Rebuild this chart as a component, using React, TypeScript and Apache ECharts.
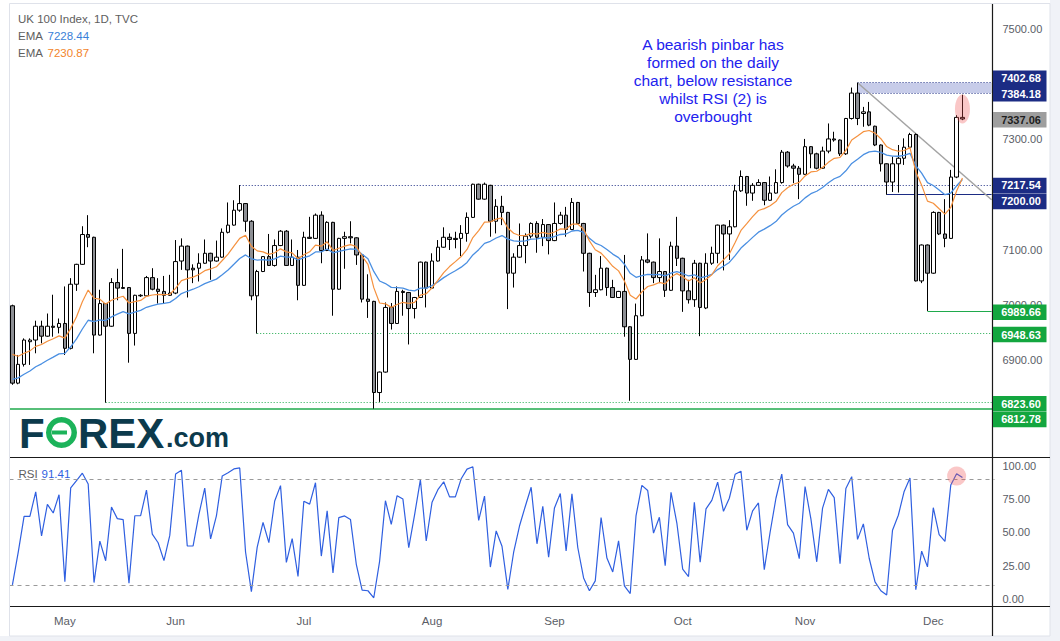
import React, { useEffect, useRef } from "react";
import * as echarts from "echarts";

// ---------- candle data (UK 100, daily) ----------
const opens = [
  6999, 6859, 6893, 6934, 6937, 6962, 6944, 6962, 6960, 6967,
  6922, 7038, 7074, 7128, 7123, 6946, 7003, 6962, 7041, 7032,
  7032, 6949, 7017, 7017, 7050, 7029, 7025, 7018, 7022, 7080,
  7107, 7067, 7067, 7076, 7094, 7080, 7087, 7132, 7145, 7172,
  7184, 7152, 7017, 7061, 7088, 7072, 7108, 7134, 7072, 7087,
  7036, 7123, 7121, 7163, 7099, 7150, 7029, 7121, 7124, 7122,
  7091, 7011, 7007, 6842, 6879, 6996, 6967, 7025, 7023, 6994,
  7014, 7078, 7031, 7080, 7105, 7123, 7121, 7121, 7130, 7159,
  7219, 7192, 7217, 7152, 7179, 7168, 7058, 7087, 7108, 7125,
  7148, 7123, 7146, 7117, 7148, 7163, 7137, 7186, 7148, 7094,
  7023, 7028, 7067, 7032, 7014, 7025, 6961, 6902, 6981, 7082,
  7078, 7050, 7061, 7027, 7107, 7085, 7026, 7010, 7076, 6995,
  7076, 7094, 7145, 7129, 7142, 7207, 7233, 7203, 7217, 7222,
  7190, 7203, 7222, 7277, 7252, 7248, 7237, 7287, 7274, 7248,
  7279, 7301, 7299, 7274, 7338, 7384, 7347, 7350, 7324, 7290,
  7256, 7223, 7256, 7266, 7286, 7309, 7044, 7109, 7058, 7168,
  7129, 7121, 7232, 7340,
];
const highs = [
  7001, 6910, 6940, 6940, 6972, 6972, 6985, 7019, 6976, 7034,
  7049, 7075, 7143, 7163, 7124, 7028, 7004, 7049, 7066, 7102,
  7033, 7019, 7020, 7053, 7067, 7049, 7053, 7055, 7118, 7121,
  7108, 7074, 7094, 7119, 7095, 7117, 7139, 7186, 7190, 7217.54,
  7185, 7154, 7064, 7089, 7129, 7119, 7136, 7136, 7119, 7100,
  7133, 7160, 7166, 7170, 7152, 7151, 7122, 7133, 7152, 7123,
  7092, 7056, 7008, 6880, 7005, 7004, 7034, 7028, 7024, 7015,
  7079, 7079, 7094, 7118, 7141, 7130, 7133, 7145, 7168, 7220,
  7220, 7222, 7218, 7192, 7198, 7169, 7094, 7148, 7130, 7150,
  7152, 7156, 7147, 7186, 7169, 7178, 7194, 7187, 7149, 7095,
  7055, 7089, 7068, 7046, 7026, 7091, 6962, 7003, 7089, 7130,
  7079, 7121, 7062, 7115, 7160, 7086, 7046, 7082, 7077, 7094,
  7106, 7146, 7146, 7154, 7218, 7244, 7234, 7221, 7228, 7223,
  7233, 7246, 7281, 7279, 7256, 7252, 7301, 7288, 7276, 7287,
  7329, 7314, 7300, 7339, 7394, 7402.68, 7359, 7368, 7325, 7291,
  7257, 7269, 7290, 7302, 7312, 7311, 7110, 7110, 7170, 7169,
  7192, 7245, 7344, 7381,
];
const lows = [
  6856, 6857, 6889, 6892, 6913, 6931, 6943, 6943, 6949, 6910,
  6920, 7026, 7073, 7105, 6913, 6945, 6823.6, 6961, 7009, 7030,
  6896, 6927, 7015, 7015, 7027, 7003, 7003, 7017, 7020, 7064,
  7014, 7040, 7043, 7075, 7046, 7079, 7086, 7130, 7144, 7169,
  7133, 7009, 6948.63, 7060, 7071, 7070, 7107, 7071, 7071, 7009,
  7035, 7120, 7120, 7076, 7098, 6981, 7028, 7066, 7112, 7073,
  7005, 6977, 6812.78, 6825, 6878, 6956, 6966, 6981, 6929, 6976,
  7013, 6996, 7030, 7079, 7104, 7100, 7103, 7089, 7115, 7158,
  7191, 7191, 7124, 7130, 7145, 6993, 7032, 7086, 7076, 7121,
  7095, 7107, 7092, 7116, 7146, 7124, 7136, 7147, 7061, 6997,
  7015, 7027, 7017, 7013, 7013, 6943, 6827, 6901, 6980, 7076,
  7040, 7040, 7015, 7026, 7071, 6988, 7003, 6997, 6944, 6993,
  7073, 7076, 7063, 7082, 7141, 7205, 7180, 7189, 7216, 7181,
  7189, 7202, 7220, 7249, 7221, 7192, 7236, 7248, 7246, 7247,
  7275, 7296, 7270, 7272, 7336, 7326, 7323, 7324, 7288, 7242,
  7200, 7205, 7204, 7254, 7285, 7043, 7040, 6989.66, 7057, 7127,
  7105, 7120, 7230, 7335,
];
const closes = [
  6859, 6893, 6937, 6937, 6962, 6944, 6962, 6960, 6967, 6922,
  7038, 7074, 7128, 7123, 6946, 7003, 6962, 7041, 7031, 7030.5,
  6949, 7018, 7018, 7050, 7029, 7025, 7018, 7022, 7079, 7107,
  7064, 7064, 7076, 7094, 7080, 7087, 7132, 7145, 7172, 7184,
  7152, 7017, 7061, 7088, 7072, 7108, 7134, 7072, 7087, 7036,
  7123, 7121, 7163, 7099, 7150, 7029, 7121, 7124, 7122, 7091,
  7011, 7007, 6842, 6879, 6996, 6967, 7025, 7023, 6994, 7014,
  7078, 7031, 7080, 7105, 7123, 7119, 7119, 7130, 7159, 7219,
  7192, 7219, 7152, 7179, 7168, 7058, 7087, 7108, 7125, 7148,
  7123, 7146, 7117, 7148, 7163, 7137, 7186, 7148, 7094, 7023,
  7028, 7067, 7032, 7014, 7025, 6961, 6902, 6981, 7082, 7078,
  7050, 7061, 7027, 7107, 7085, 7026, 7010, 7076, 6996, 7076,
  7094, 7145, 7129, 7142, 7207, 7233, 7203, 7217, 7222, 7190,
  7203, 7222, 7277, 7252, 7248, 7237, 7287, 7274, 7248, 7279,
  7301, 7299, 7274, 7338, 7384, 7338, 7350, 7326, 7290, 7256,
  7223, 7256, 7266, 7286, 7309, 7044, 7109, 7058, 7168, 7129,
  7121, 7232, 7340, 7337.06,
];

// ---------- calendar ----------
const firstSession = [2021, 3, 20]; // 20 Apr 2021
const marketHolidays = ["2021-05-03", "2021-05-31", "2021-08-30"];
const monthNames = ["Jan", "Feb", "Mar", "Apr", "May", "Jun", "Jul", "Aug", "Sep", "Oct", "Nov", "Dec"];
const rightPadBars = 5;

// ---------- axes (only the tick labels left visible next to the level badges) ----------
const priceTicks = [6900, 7000, 7100, 7300, 7500];
const priceMin = 6725.3;
const priceMax = 7543.4;
const rsiTicks = [0, 25, 50, 75, 100];
const rsiMin = -5.26;
const rsiMax = 106.0;
const rsiBands = [90, 10];

// ---------- indicators ----------
const emaFastPeriod = 10;
const emaSlowPeriod = 20;
const emaFastFirst = 6911; // value on first visible bar
const emaSlowFirst = 6866;
const rsiPeriod = 2;
const rsiFirstAvgGain = 9.5;
const rsiFirstAvgLoss = 80;
const legendTitle = "UK 100 Index, 1D, TVC";
const legendEmaSlow = "7228.44";
const legendEmaFast = "7230.87";
const legendRsi = "91.41";

// ---------- drawn levels ----------
const levelValues = [7402.68, 7384.18, 7337.06, 7217.54, 7200.0, 6989.66, 6948.63, 6823.6, 6812.78];
const levelStartBars = [145, 145, -1, 39, 150, 157, 42, 16, 0];
const trendStart = [145, 7402.68];
const trendEnd = [168, 7191];
const pinbarMark = [163, 7355];
const rsiMark = [162, 92.5];
const noteLines = [
  "A bearish pinbar has",
  "formed on the daily",
  "chart, below resistance",
  "whilst RSI (2) is",
  "overbought",
];

// ---------- styles ----------
const FONT = "'Liberation Sans', Arial, Helvetica, sans-serif";
const NAVY = "#1c2c84";
const GREEN = "#1faa4c";
const levelLineStyles: any[] = [
  { color: NAVY, type: [1, 2], width: 1 },
  { color: NAVY, type: [1, 2], width: 1 },
  null,
  { color: NAVY, type: [1, 2], width: 1 },
  { color: NAVY, type: "solid", width: 1.2 },
  { color: GREEN, type: "solid", width: 1.2 },
  { color: GREEN, type: [1, 2], width: 1 },
  { color: GREEN, type: [1, 2], width: 1 },
  { color: GREEN, type: "solid", width: 1.5 },
];
const badgeFills = [NAVY, NAVY, "#9e9e9e", NAVY, NAVY, "#13a63f", "#13a63f", "#13a63f", "#13a63f"];
const badgeTextFills = ["#fff", "#fff", "#1e1e1e", "#fff", "#fff", "#fff", "#fff", "#fff", "#fff"];
const badgeNudges = [-4.5, 0.8, 0.7, 0.4, 6.6, 1.3, 0.9, 1.1, 10.8];

function buildSessions(count: number): string[] {
  const out: string[] = [];
  const d = new Date(Date.UTC(firstSession[0], firstSession[1], firstSession[2]));
  while (out.length < count) {
    const dow = d.getUTCDay();
    const iso = d.toISOString().slice(0, 10);
    if (dow !== 0 && dow !== 6 && marketHolidays.indexOf(iso) < 0) out.push(iso);
    d.setUTCDate(d.getUTCDate() + 1);
  }
  return out;
}

function ema(values: number[], period: number, first: number): number[] {
  const k = 2 / (period + 1);
  const out = [first];
  for (let i = 1; i < values.length; i++) out.push(out[i - 1] + k * (values[i] - out[i - 1]));
  return out.map((v) => Math.round(v * 100) / 100);
}

function rsi(values: number[], period: number, g0: number, l0: number): number[] {
  let ag = g0;
  let al = l0;
  const out = [100 - 100 / (1 + ag / al)];
  for (let i = 1; i < values.length; i++) {
    const ch = values[i] - values[i - 1];
    ag = (ag * (period - 1) + Math.max(ch, 0)) / period;
    al = (al * (period - 1) + Math.max(-ch, 0)) / period;
    out.push(al === 0 ? 100 : 100 - 100 / (1 + ag / al));
  }
  return out.map((v) => Math.round(v * 100) / 100);
}

export default function App() {
  const ref = useRef<HTMLDivElement>(null);

  useEffect(() => {
    const el = ref.current;
    if (!el) return;
    const chart = echarts.init(el, null, { renderer: "svg", width: 1060, height: 641 });

    const sessions = buildSessions(closes.length);
    const categories = sessions.concat(Array.from({ length: rightPadBars }, (_, i) => "pad" + i));
    const lastBar = categories.length - 1;
    const isMonthStart = (i: number) =>
      i > 0 && i < sessions.length && sessions[i].slice(5, 7) !== sessions[i - 1].slice(5, 7);

    const candles = opens.map((o, i) => [o, closes[i], lows[i], highs[i]]);
    const emaFast = ema(closes, emaFastPeriod, emaFastFirst);
    const emaSlow = ema(closes, emaSlowPeriod, emaSlowFirst);
    const rsiValues = rsi(closes, rsiPeriod, rsiFirstAvgGain, rsiFirstAvgLoss);

    const markLines: any[] = [];
    levelValues.forEach((v, i) => {
      const ls = levelLineStyles[i];
      if (!ls) return;
      if (levelStartBars[i] === 0) {
        markLines.push({ yAxis: v, lineStyle: ls });
      } else {
        markLines.push([{ coord: [levelStartBars[i], v], lineStyle: ls }, { coord: [lastBar, v] }]);
      }
    });
    markLines.push([
      { coord: trendStart, lineStyle: { color: "#a3a3a3", width: 1.5, type: "solid" } },
      { coord: trendEnd },
    ]);

    const axisLabelStyle = { color: "#5a5d66", fontSize: 11, fontFamily: FONT };

    const option: any = {
      animation: false,
      backgroundColor: "#ffffff",
      grid: [
        { left: 9.5, top: 5, width: 985, height: 452 },
        { left: 9.5, top: 458, width: 985, height: 148 },
      ],
      xAxis: [
        {
          type: "category", gridIndex: 0, data: categories,
          axisLine: { show: false }, axisTick: { show: false }, axisLabel: { show: false }, splitLine: { show: false },
        },
        {
          type: "category", gridIndex: 1, data: categories,
          axisLine: { show: false }, axisTick: { show: false }, splitLine: { show: false },
          axisLabel: {
            ...axisLabelStyle, fontSize: 11.5, margin: 9,
            interval: (index: number) => isMonthStart(index),
            formatter: (value: string) => (value.startsWith("pad") ? "" : monthNames[parseInt(value.slice(5, 7), 10) - 1]),
          },
        },
      ],
      yAxis: [
        {
          type: "value", gridIndex: 0, position: "right", min: priceMin, max: priceMax,
          axisLine: { show: false }, axisTick: { show: false }, splitLine: { show: false },
          axisLabel: { ...axisLabelStyle, margin: 8, customValues: priceTicks, formatter: (v: number) => v.toFixed(2) },
        },
        {
          type: "value", gridIndex: 1, position: "right", min: rsiMin, max: rsiMax,
          axisLine: { show: false }, axisTick: { show: false }, splitLine: { show: false },
          axisLabel: { ...axisLabelStyle, margin: 8, customValues: rsiTicks, formatter: (v: number) => v.toFixed(2) },
        },
      ],
      series: [
        {
          type: "candlestick", xAxisIndex: 0, yAxisIndex: 0, data: candles, barWidth: 4, z: 3,
          itemStyle: { color: "#ffffff", color0: "#8d8f94", borderColor: "#000000", borderColor0: "#000000", borderWidth: 1 },
          markLine: { silent: true, symbol: ["none", "none"], label: { show: false }, data: markLines, z: 2 },
          markArea: {
            silent: true, itemStyle: { color: "rgba(121,134,203,0.42)" },
            data: [[{ coord: [levelStartBars[0], levelValues[0]] }, { coord: [lastBar, levelValues[1]] }]],
          },
        },
        {
          type: "line", xAxisIndex: 0, yAxisIndex: 0, data: emaSlow, showSymbol: false, z: 4,
          lineStyle: { color: "#4a8fe2", width: 1.3 },
        },
        {
          type: "line", xAxisIndex: 0, yAxisIndex: 0, data: emaFast, showSymbol: false, z: 4,
          lineStyle: { color: "#f5913e", width: 1.2 },
        },
        {
          type: "line", xAxisIndex: 1, yAxisIndex: 1, data: rsiValues, showSymbol: false, z: 4,
          lineStyle: { color: "#2f5fe0", width: 1.2 },
          markLine: {
            silent: true, symbol: ["none", "none"], label: { show: false },
            lineStyle: { color: "#9a9a9a", type: [4, 4], width: 1 },
            data: rsiBands.map((b) => ({ yAxis: b })),
          },
        },
      ],
    };

    chart.setOption(option);

    const g: any[] = [];
    // frame
    g.push({ type: "rect", z: 0, shape: { x: 1050, y: 0, width: 10, height: 641 }, style: { fill: "#f0f2f7" }, silent: true });
    g.push({ type: "rect", z: 0, shape: { x: 0, y: 636, width: 1060, height: 5 }, style: { fill: "#f0f2f7" }, silent: true });
    g.push({ type: "rect", z: 50, shape: { x: 9.5, y: 3.5, width: 1040.5, height: 632.5 }, style: { fill: "none", stroke: "#dfe2ea", lineWidth: 1 }, silent: true });
    g.push({ type: "line", z: 50, shape: { x1: 10, y1: 457.5, x2: 1050, y2: 457.5 }, style: { stroke: "#1a1a1a", lineWidth: 1.2 }, silent: true });
    g.push({ type: "line", z: 50, shape: { x1: 10, y1: 606.5, x2: 1050, y2: 606.5 }, style: { stroke: "#1a1a1a", lineWidth: 1.2 }, silent: true });
    g.push({ type: "line", z: 50, shape: { x1: 992.5, y1: 4, x2: 992.5, y2: 636 }, style: { stroke: "#1a1a1a", lineWidth: 1.2 }, silent: true });

    // legends
    const legendFont = { fontSize: 11.5, fontFamily: FONT };
    g.push({ type: "text", z: 60, x: 18, y: 19, style: { text: legendTitle, fill: "#5e5e5e", ...legendFont, verticalAlign: "middle" } });
    g.push({ type: "text", z: 60, x: 18, y: 36, style: { text: "EMA", fill: "#5e5e5e", ...legendFont, verticalAlign: "middle" } });
    g.push({ type: "text", z: 60, x: 47.5, y: 36, style: { text: legendEmaSlow, fill: "#3a7fd8", ...legendFont, verticalAlign: "middle" } });
    g.push({ type: "text", z: 60, x: 18, y: 53, style: { text: "EMA", fill: "#5e5e5e", ...legendFont, verticalAlign: "middle" } });
    g.push({ type: "text", z: 60, x: 47.5, y: 53, style: { text: legendEmaFast, fill: "#f2842b", ...legendFont, verticalAlign: "middle" } });
    g.push({ type: "text", z: 60, x: 18.5, y: 474, style: { text: "RSI", fill: "#5e5e5e", ...legendFont, verticalAlign: "middle" } });
    g.push({ type: "text", z: 60, x: 41.5, y: 474, style: { text: legendRsi, fill: "#2f5fe0", ...legendFont, verticalAlign: "middle" } });

    // annotation
    g.push({
      type: "text", z: 60, x: 713, y: 35,
      style: { text: noteLines.join("\n"), fill: "#2222ee", fontSize: 15.5, lineHeight: 18.2, fontFamily: FONT, align: "center", verticalAlign: "top" },
    });

    // highlights
    const pin = chart.convertToPixel({ gridIndex: 0 }, pinbarMark) as number[];
    g.push({ type: "ellipse", z: 40, shape: { cx: pin[0], cy: pin[1], rx: 7.5, ry: 14.5 }, style: { fill: "rgba(240,80,80,0.32)" }, silent: true });
    const rm = chart.convertToPixel({ gridIndex: 1 }, rsiMark) as number[];
    g.push({ type: "circle", z: 40, shape: { cx: rm[0], cy: rm[1], r: 9.5 }, style: { fill: "rgba(240,80,80,0.32)" }, silent: true });

    // price badges
    levelValues.forEach((v, i) => {
      const y = (chart.convertToPixel({ yAxisIndex: 0 }, v) as number) + badgeNudges[i];
      g.push({ type: "rect", z: 70, shape: { x: 993, y: y - 7.8, width: 53.5, height: 15.6 }, style: { fill: badgeFills[i] }, silent: true });
      g.push({
        type: "text", z: 71, x: 1021, y: y,
        style: { text: v.toFixed(2), fill: badgeTextFills[i], fontSize: 11, fontWeight: "bold", fontFamily: FONT, align: "center", verticalAlign: "middle" },
        silent: true,
      });
    });

    // FOREX.com logo
    const logoBlue = "#0c3a4c";
    const logoGreen = "#1cb35a";
    const logoFont = { fontSize: 42, fontWeight: "bold", fontFamily: FONT, verticalAlign: "middle" };
    g.push({ type: "text", z: 60, x: 19, y: 433, style: { text: "F", fill: logoBlue, ...logoFont } });
    g.push({ type: "ring", z: 60, shape: { cx: 61.5, cy: 432.5, r: 15.5, r0: 10 }, style: { fill: logoGreen } });
    g.push({ type: "rect", z: 60, shape: { x: 52, y: 430.5, width: 15, height: 4 }, style: { fill: logoGreen } });
    g.push({ type: "text", z: 60, x: 78, y: 433, style: { text: "REX", fill: logoBlue, ...logoFont } });
    g.push({ type: "text", z: 60, x: 166, y: 437.5, style: { text: ".com", fill: logoBlue, fontSize: 27, fontWeight: "bold", fontFamily: FONT, verticalAlign: "middle" } });

    chart.setOption({ graphic: g });

    return () => chart.dispose();
  }, []);

  return (
    <div
      ref={ref}
      style={{ position: "fixed", left: 0, top: 0, width: 1060, height: 641, background: "#ffffff" }}
    />
  );
}
